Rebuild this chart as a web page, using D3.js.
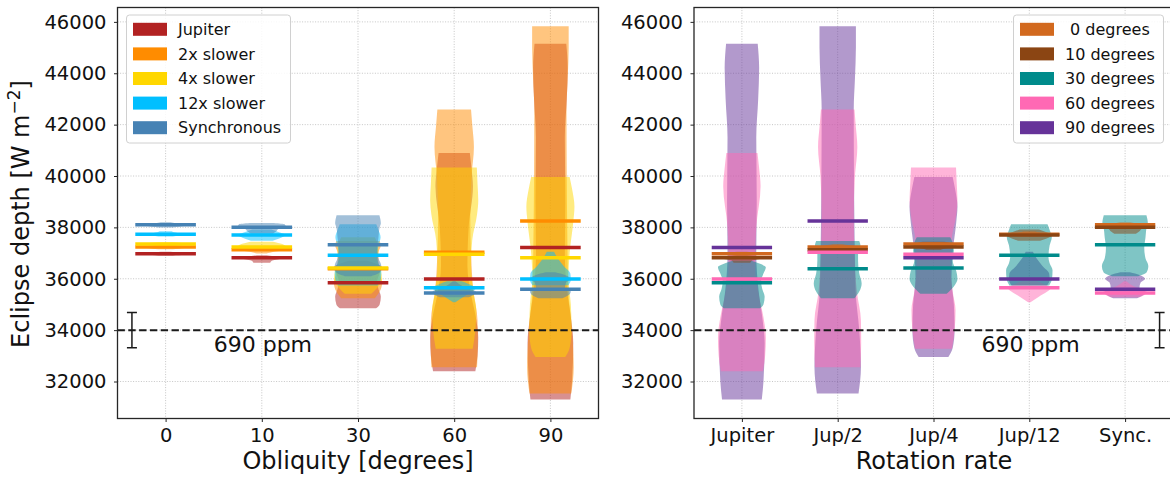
<!DOCTYPE html>
<html>
<head>
<meta charset="UTF-8">
<script src="https://cdn.jsdelivr.net/npm/d3@7"></script>
<style>
  body { margin: 0; background: #fff; }
  text { font-family: "DejaVu Sans", sans-serif; fill: #111; }
</style>
</head>
<body>
<script>
// categories
const obliquities = ["0", "10", "30", "60", "90"];
const rotations = ["Jupiter", "Jup/2", "Jup/4", "Jup/12", "Sync."];
const rotationNames = ["Jupiter", "2x slower", "4x slower", "12x slower", "Synchronous"];
const obliquityNames = [" 0 degrees", "10 degrees", "30 degrees", "60 degrees", "90 degrees"];
const yTicks = [32000, 34000, 36000, 38000, 40000, 42000, 44000, 46000];

const rotationColors = ["#b22222", "#ff8c00", "#ffd700", "#00bfff", "#4682b4"];
const obliquityColors = ["#d2691e", "#8b4513", "#008b8b", "#ff69b4", "#663399"];

// median eclipse depth per rotation rate, columns = obliquity 0,10,30,60,90
const medianJupiter = [36970, 36820, 35840, 35990, 37220];
const medianJup2    = [37235, 37130, 36390, 37030, 38250];
const medianJup4    = [37350, 37240, 36420, 36950, 36820];
const medianJup12   = [37730, 37700, 36920, 35650, 35990];
const medianSync    = [38100, 38010, 37320, 35450, 35590];

// violin outlines per rotation rate: [eclipse depth, relative half width]
const violinJupiter = [
  [[36900,0.3],[36960,1.0],[37010,0.6],[37050,0.2]],
  [[36620,0.35],[36700,0.42],[36780,0.8],[36830,1.0],[36880,0.5],[36920,0.2]],
  [[34850,0.75],[35000,0.9],[35300,0.95],[35600,0.85],[35900,0.8],[36200,0.9],[36450,1.0],[36600,0.7],[36700,0.4]],
  [[32400,0.88],[33000,0.97],[33700,1.0],[34500,0.9],[35300,0.72],[36500,0.55],[38000,0.6],[39600,0.78],[40300,0.72],[40900,0.65]],
  [[31300,0.83],[32000,0.9],[33500,0.95],[34500,0.85],[35500,0.7],[37000,0.6],[39000,0.62],[41500,0.6],[43000,0.68],[44200,0.72],[45150,0.66]]
];
const violinJup2 = [
  [[37150,0.3],[37235,1.0],[37300,0.5],[37350,0.2]],
  [[36980,0.2],[37050,0.5],[37130,1.0],[37200,0.4]],
  [[35240,0.7],[35500,0.9],[35820,1.0],[36200,0.9],[36700,0.85],[37000,0.85],[37300,0.95],[37470,0.9]],
  [[32560,0.95],[33500,0.98],[34380,0.97],[35500,0.8],[37000,0.7],[38400,0.67],[40000,0.72],[41130,0.82],[42000,0.75],[42590,0.7]],
  [[31530,0.87],[32560,0.97],[34000,0.9],[35500,0.75],[38000,0.7],[40000,0.68],[42600,0.67],[43800,0.72],[45000,0.76],[45830,0.76]]
];
const violinJup4 = [
  [[37280,0.3],[37350,1.0],[37420,0.3]],
  [[37120,0.3],[37200,0.6],[37240,1.0],[37350,0.85],[37440,0.45]],
  [[35420,0.55],[35700,0.85],[36000,1.0],[36300,0.95],[36700,0.8],[37100,0.85],[37400,0.8],[37620,0.7]],
  [[33280,0.77],[34000,0.88],[34770,0.92],[35500,0.8],[36500,0.7],[37500,0.75],[38500,0.95],[39050,1.0],[39700,0.97],[40330,0.94]],
  [[32950,0.62],[33300,0.8],[34000,0.88],[35000,0.85],[36000,0.75],[37000,0.8],[38200,0.95],[38800,1.0],[39500,0.9],[39960,0.8]]
];
const violinJup12 = [
  [[37650,0.3],[37720,1.0],[37780,0.5],[37850,0.25]],
  [[37480,0.45],[37600,0.8],[37700,1.0],[37800,0.75],[37920,0.4]],
  [[35740,0.83],[36000,0.95],[36330,0.97],[36600,0.85],[36840,0.8],[37300,0.85],[37620,0.94],[37900,0.85],[38120,0.76]],
  [[35090,0.05],[35300,0.4],[35500,0.75],[35650,0.9],[35800,0.6],[35900,0.3]],
  [[35750,0.75],[35950,0.85],[36200,0.83],[36500,0.55],[36800,0.3],[37050,0.15]]
];
const violinSync = [
  [[38000,0.3],[38100,1.0],[38150,0.55],[38200,0.2]],
  [[37750,0.45],[37850,0.6],[37950,0.7],[38030,1.0],[38120,0.95],[38170,0.5]],
  [[36100,0.55],[36250,0.9],[36500,0.97],[36800,0.85],[37200,0.8],[37600,0.85],[38000,0.9],[38160,0.95],[38470,0.89]],
  [[35280,0.6],[35400,0.85],[35500,0.9],[35650,0.5],[35800,0.2],[35900,0.05]],
  [[35240,0.5],[35400,0.8],[35500,0.85],[35650,0.6],[35850,0.65],[36000,0.83],[36150,0.6],[36250,0.2]]
];

const medians = [medianJupiter, medianJup2, medianJup4, medianJup12, medianSync];
const violins = [violinJupiter, violinJup2, violinJup4, violinJup12, violinSync];

const refDepth = 34000;   // dashed line
const errHalf = 690;      // error bar half length

// layout
const W = 1170, H = 479;
const plotTop = 7.5, plotBottom = 418.5;
const y = d3.scaleLinear().domain([30560, 46560]).range([plotBottom, plotTop]);

const svg = d3.select("body").append("svg")
  .attr("width", W)
  .attr("height", H);

function drawPanel(p) {
  const x = d3.scaleLinear().domain([-0.5, 4.5]).range([p.left, p.right]);
  const g = svg.append("g");

  g.append("clipPath").attr("id", p.id)
    .append("rect")
    .attr("x", p.left).attr("y", plotTop)
    .attr("width", p.right - p.left).attr("height", plotBottom - plotTop);

  const plot = g.append("g").attr("clip-path", "url(#" + p.id + ")");

  // grid
  plot.selectAll(".gx").data(d3.range(5)).enter().append("line")
    .attr("x1", d => x(d)).attr("x2", d => x(d))
    .attr("y1", plotTop).attr("y2", plotBottom)
    .attr("stroke", "#b8b8b8").attr("stroke-width", 0.8).attr("stroke-dasharray", "1,1.6");
  plot.selectAll(".gy").data(yTicks).enter().append("line")
    .attr("x1", p.left).attr("x2", p.right)
    .attr("y1", d => y(d)).attr("y2", d => y(d))
    .attr("stroke", "#b8b8b8").attr("stroke-width", 0.8).attr("stroke-dasharray", "1,1.6");

  // violins, one series at a time
  p.order.forEach(s => {
    for (let k = 0; k < 5; k++) {
      const prof = p.violin(k, s);
      const area = d3.area()
        .curve(d3.curveMonotoneY)
        .y(d => y(d[0]))
        .x0(d => x(k - d[1] * 0.25))
        .x1(d => x(k + d[1] * 0.25));
      plot.append("path").datum(prof)
        .attr("d", area)
        .attr("fill", p.colors[s])
        .attr("fill-opacity", 0.5);
    }
  });

  // median lines
  for (let s = 0; s < 5; s++) {
    for (let k = 0; k < 5; k++) {
      const v = p.median(k, s);
      plot.append("line")
        .attr("x1", x(k - 0.315)).attr("x2", x(k + 0.315))
        .attr("y1", y(v)).attr("y2", y(v))
        .attr("stroke", p.colors[s]).attr("stroke-width", 3.5);
    }
  }

  // reference line and error bar
  plot.append("line")
    .attr("x1", p.left).attr("x2", p.right)
    .attr("y1", y(refDepth)).attr("y2", y(refDepth))
    .attr("stroke", "#1a1a1a").attr("stroke-width", 2).attr("stroke-dasharray", "7.4,3.4");
  const ex = x(p.errX);
  plot.append("line")
    .attr("x1", ex).attr("x2", ex)
    .attr("y1", y(refDepth + errHalf)).attr("y2", y(refDepth - errHalf))
    .attr("stroke", "#1a1a1a").attr("stroke-width", 1.5);
  [refDepth + errHalf, refDepth - errHalf].forEach(v => {
    plot.append("line")
      .attr("x1", ex - 5).attr("x2", ex + 5)
      .attr("y1", y(v)).attr("y2", y(v))
      .attr("stroke", "#1a1a1a").attr("stroke-width", 1.5);
  });
  plot.append("text")
    .attr("x", x(p.textX)).attr("y", y(33150))
    .attr("font-size", 22)
    .text("690 ppm");

  // frame
  g.append("rect")
    .attr("x", p.left).attr("y", plotTop)
    .attr("width", p.right - p.left).attr("height", plotBottom - plotTop)
    .attr("fill", "none").attr("stroke", "#262626").attr("stroke-width", 1.3);

  // axes
  const ya = g.append("g")
    .attr("transform", "translate(" + p.left + ",0)")
    .call(d3.axisLeft(y).tickValues(yTicks).tickFormat(d3.format("d")).tickSize(3.5).tickPadding(7.5));
  const xa = g.append("g")
    .attr("transform", "translate(0," + plotBottom + ")")
    .call(d3.axisBottom(x).tickValues(d3.range(5)).tickFormat(d => p.groups[d]).tickSize(3.5).tickPadding(6.2));
  [ya, xa].forEach(a => {
    a.select(".domain").remove();
    a.attr("font-family", null).attr("font-size", null);
    a.selectAll(".tick line").attr("stroke", "#262626");
    a.selectAll(".tick text").attr("font-size", 19.5).attr("fill", "#111");
  });

  g.append("text")
    .attr("x", (p.left + Math.min(p.right, W)) / 2 + p.xlabelShift)
    .attr("y", 469)
    .attr("text-anchor", "middle")
    .attr("font-size", 24)
    .text(p.xlabel);

  // legend
  const lg = g.append("g");
  lg.append("rect")
    .attr("x", p.legendX).attr("y", 15)
    .attr("width", 150 + p.legendExtra).attr("height", 128)
    .attr("rx", 3)
    .attr("fill", "#fff").attr("fill-opacity", 0.85)
    .attr("stroke", "#d0d0d0");
  p.names.forEach((n, i) => {
    const cy = 29.3 + i * 24.6;
    lg.append("rect")
      .attr("x", p.legendX + 6.5).attr("y", cy - 6.5)
      .attr("width", 34).attr("height", 13)
      .attr("fill", p.colors[i]);
    lg.append("text")
      .attr("x", p.legendX + 51.5).attr("y", cy)
      .attr("dy", "0.36em")
      .attr("font-size", 16)
      .style("white-space", "pre")
      .text(n);
  });
}

// left: grouped by obliquity, coloured by rotation rate
drawPanel({
  id: "clipL", left: 117.5, right: 598.5,
  groups: obliquities, names: rotationNames, colors: rotationColors,
  order: [0, 1, 2, 3, 4],
  violin: (k, s) => violins[s][k],
  median: (k, s) => medians[s][k],
  errX: -0.35, textX: 0.5,
  xlabel: "Obliquity [degrees]", xlabelShift: 0,
  legendX: 126.5, legendExtra: 14
});

// right: grouped by rotation rate, coloured by obliquity
drawPanel({
  id: "clipR", left: 694, right: 1173,
  groups: rotations, names: obliquityNames, colors: obliquityColors,
  order: [4, 3, 2, 1, 0],
  violin: (k, s) => violins[k][s],
  median: (k, s) => medians[k][s],
  errX: 4.36, textX: 2.5,
  xlabel: "Rotation rate", xlabelShift: 2,
  legendX: 1013.5, legendExtra: 0
});

// y label
const yl = svg.append("text")
  .attr("transform", "translate(29,214) rotate(-90)")
  .attr("text-anchor", "middle")
  .attr("font-size", 24);
yl.append("tspan").text("Eclipse depth [W m");
yl.append("tspan").attr("font-size", 17).attr("dy", -9).text("\u22122");
yl.append("tspan").attr("dy", 9).text("]");
</script>
</body>
</html>
